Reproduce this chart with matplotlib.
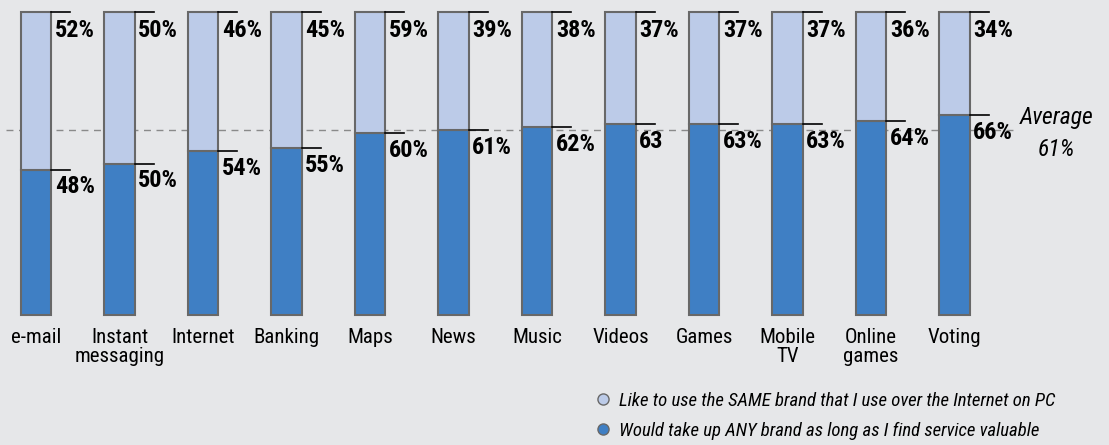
import matplotlib.pyplot as plt
from matplotlib import font_manager
from matplotlib.lines import Line2D

# pick a condensed sans like the original's
installed = {f.name for f in font_manager.fontManager.ttflist}
for name in ['Roboto Condensed', 'Archivo Narrow', 'Asap Condensed', 'Liberation Sans Narrow']:
    if name in installed:
        font = name
        break
else:
    font = 'DejaVu Sans'
plt.rcParams['font.family'] = [font, 'DejaVu Sans']

categories = ['e-mail', 'Instant\nmessaging', 'Internet', 'Banking', 'Maps', 'News',
              'Music', 'Videos', 'Games', 'Mobile\nTV', 'Online\ngames', 'Voting']
any_brand = [48, 50, 54, 55, 60, 61, 62, 63, 63, 63, 64, 66]
same_brand = [52, 50, 46, 45, 59, 39, 38, 37, 37, 37, 36, 34]
any_labels = ['48%', '50%', '54%', '55%', '60%', '61%', '62%', '63', '63%', '63%', '64%', '66%']
same_labels = ['%d%%' % v for v in same_brand]
average = 61

bg = '#e6e7e9'
light = '#bccbe8'
dark = '#3f7fc4'
edge = '#686868'

fig = plt.figure(figsize=(11.09, 4.45), dpi=100, facecolor=bg)
ax = fig.add_axes([0, 0, 1, 1], facecolor=bg)
ax.set_xlim(-0.431, 12.85)
ax.set_ylim(-42.9, 104.0)
ax.axis('off')

x = list(range(len(categories)))
w = 0.36
top_part = [100 - v for v in any_brand]

ax.axhline(average, xmin=0.005, xmax=0.915, color='#8a8a8a', lw=1, ls=(0, (5, 4)), zorder=1)

ax.bar(x, any_brand, width=w, color=dark, edgecolor=edge, linewidth=1.5, zorder=2)
ax.bar(x, top_part, bottom=any_brand, width=w, color=light, edgecolor=edge, linewidth=1.5, zorder=2)

for i in x:
    xr = i + w / 2
    ax.plot([xr, xr + 0.23], [100, 100], color='black', lw=1.2, zorder=3)
    ax.plot([xr, xr + 0.23], [any_brand[i], any_brand[i]], color='black', lw=1.2, zorder=3)
    ax.text(xr + 0.045, 97.8, same_labels[i], ha='left', va='top', fontsize=17.5,
            fontweight='bold', zorder=4)
    ax.text(xr + 0.045, any_brand[i] - 1.9, any_labels[i], ha='left', va='top', fontsize=17.5,
            fontweight='bold', zorder=4)
    ax.text(i, -4.2, categories[i], ha='center', va='top', fontsize=15, linespacing=1.02)

ax.text(12.22, average + 4.3, 'Average', ha='center', va='center', fontsize=17, style='italic')
ax.text(12.22, average - 6.3, '%d%%' % average, ha='center', va='center', fontsize=17, style='italic')

leg_items = [Line2D([], [], marker='o', ls='none', markersize=8, markerfacecolor=light,
                    markeredgecolor=edge),
             Line2D([], [], marker='o', ls='none', markersize=8, markerfacecolor=dark,
                    markeredgecolor=edge)]
leg_labels = ['Like to use the SAME brand that I use over the Internet on PC',
              'Would take up ANY brand as long as I find service valuable']
leg = fig.legend(leg_items, leg_labels, loc='upper left', bbox_to_anchor=(0.535, 0.12),
                 frameon=False, prop={'size': 13.5, 'style': 'italic'}, handletextpad=0.35,
                 labelspacing=0.65, borderaxespad=0, borderpad=0, handlelength=1.0)

fig.savefig('out.png', dpi=100, facecolor=bg)
